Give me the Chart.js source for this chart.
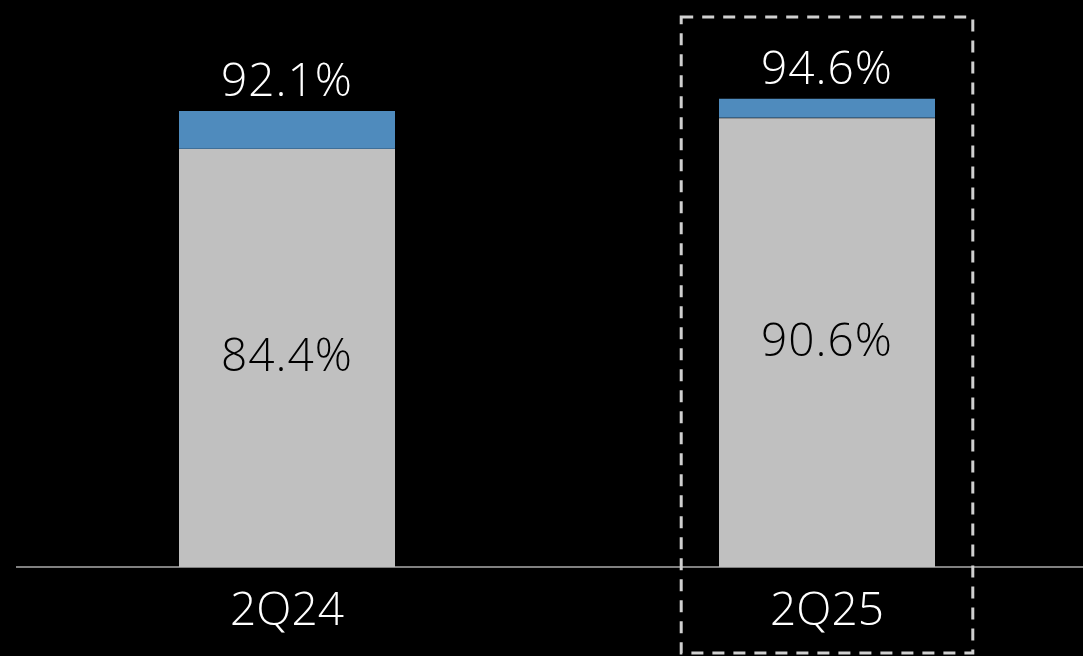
<!DOCTYPE html>
<html>
<head>
<meta charset="utf-8">
<script src="https://cdn.jsdelivr.net/npm/chart.js@4/dist/chart.umd.min.js"></script>
<style>
  html, body { margin: 0; padding: 0; background: #000; overflow: hidden; }
  #wrap { width: 1097px; height: 656px; position: relative; }
</style>
</head>
<body>
<div id="wrap"><canvas id="chart"></canvas></div>
<script>
// quarters and rates (%)
const quarters = ['2Q24', '2Q25'];
const baseRates = [84.4, 90.6];
const totalRates = [92.1, 94.6];
const extraRates = totalRates.map((t, i) => +(t - baseRates[i]).toFixed(1));

const FONT = "'Open Sans', 'Noto Sans', sans-serif";

// value labels: base rate inside the gray bar, total above the stack
const barLabels = {
  id: 'barLabels',
  afterDatasetsDraw(chart) {
    const ctx = chart.ctx;
    ctx.save();
    ctx.font = '300 46px ' + FONT;
    ctx.letterSpacing = '1px';
    ctx.textAlign = 'center';
    const grey = chart.getDatasetMeta(0).data;
    const blue = chart.getDatasetMeta(1).data;
    grey.forEach((bar, i) => {
      ctx.fillStyle = '#000';
      ctx.textBaseline = 'middle';
      ctx.fillText(baseRates[i].toFixed(1) + '%', bar.x, (bar.y + bar.base) / 2);
    });
    blue.forEach((bar, i) => {
      ctx.fillStyle = '#fff';
      ctx.textBaseline = 'alphabetic';
      ctx.fillText(totalRates[i].toFixed(1) + '%', bar.x, bar.y - 15);
    });
    ctx.restore();
  }
};

// dashed highlight box around the latest quarter
const highlight = {
  id: 'highlight',
  afterDraw(chart) {
    const x = chart.scales.x;
    const cx = x.getPixelForValue(quarters.length - 1);
    const half = x.width / quarters.length * 0.27;
    const ctx = chart.ctx;
    ctx.save();
    ctx.strokeStyle = '#d0d0d0';
    ctx.lineWidth = 3;
    ctx.setLineDash([12, 9]);
    ctx.strokeRect(cx - half, 17, half * 2, 636);
    ctx.restore();
  }
};

new Chart(document.getElementById('chart'), {
  type: 'bar',
  data: {
    labels: quarters,
    datasets: [
      { data: baseRates, backgroundColor: '#c0c0c0' },
      { data: extraRates, backgroundColor: '#4f8bbd',
        borderColor: '#3f6f98', borderWidth: { bottom: 1 }, borderSkipped: false }
    ]
  },
  options: {
    responsive: true,
    maintainAspectRatio: false,
    animation: false,
    layout: { padding: { left: 17, right: 0, top: 0, bottom: 0 } },
    datasets: { bar: { categoryPercentage: 1, barPercentage: 0.4 } },
    plugins: { legend: { display: false }, tooltip: { enabled: false } },
    scales: {
      x: {
        stacked: true,
        grid: { display: false, drawTicks: false },
        border: { color: '#808080', width: 2 },
        ticks: { color: '#fff', font: { family: FONT, size: 46, weight: 300 }, padding: 17 },
        afterFit(scale) { scale.height = 89; }
      },
      y: {
        stacked: true,
        display: false,
        min: 0,
        max: 114.5
      }
    }
  },
  plugins: [barLabels, highlight]
});
</script>
</body>
</html>
